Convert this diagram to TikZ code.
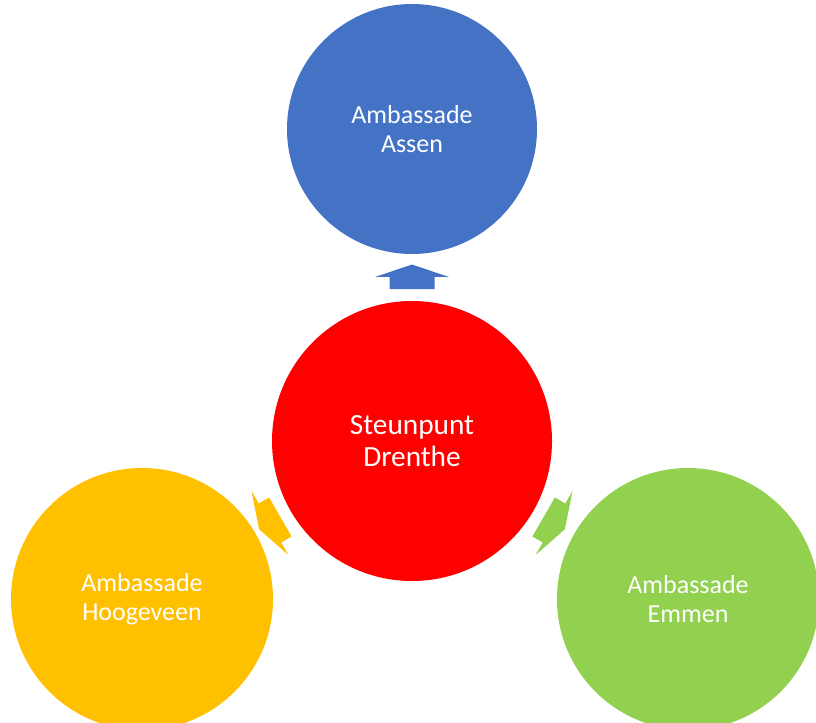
\documentclass[tikz,border=0pt]{standalone}
\usepackage{fontspec}
\setmainfont{Carlito}
\definecolor{assenblue}{HTML}{4472C4}
\definecolor{steunred}{HTML}{FF0000}
\definecolor{hoogyellow}{HTML}{FFC000}
\definecolor{emmengreen}{HTML}{92D050}
\tikzset{
    bubble/.style={circle, inner sep=0pt, text=white, align=center,
        font=\fontsize{19.5}{21.5}\selectfont}
}
\begin{document}
\begin{tikzpicture}[x=0.75pt, y=0.75pt]
        \useasboundingbox (0,0) rectangle (816,722);

        \node[bubble, fill=steunred, minimum size=210pt,
            font=\fontsize{22}{24}\selectfont] (steun) at (412,281) {Steunpunt\\Drenthe};
        \node[bubble, fill=assenblue, minimum size=187.5pt] (assen) at (412,593) {Ambassade\\Assen};
        \node[bubble, fill=hoogyellow, minimum size=196.5pt] (hoog) at (142,123) {Ambassade\\Hoogeveen};
        \node[bubble, fill=emmengreen, minimum size=196.5pt] (emmen) at (688,123) {Ambassade\\Emmen};

        % block arrows from the centre outwards
        \foreach \ang/\col in {90/assenblue, 210/hoogyellow, 330/emmengreen}
            \fill[\col, shift={(steun.center)}, rotate=\ang]
                (176.5,0) -- (164,37) -- (164,22.5) -- (152,22.5)
                -- (152,-22.5) -- (164,-22.5) -- (164,-37) -- cycle;

    \end{tikzpicture}
\end{document}
